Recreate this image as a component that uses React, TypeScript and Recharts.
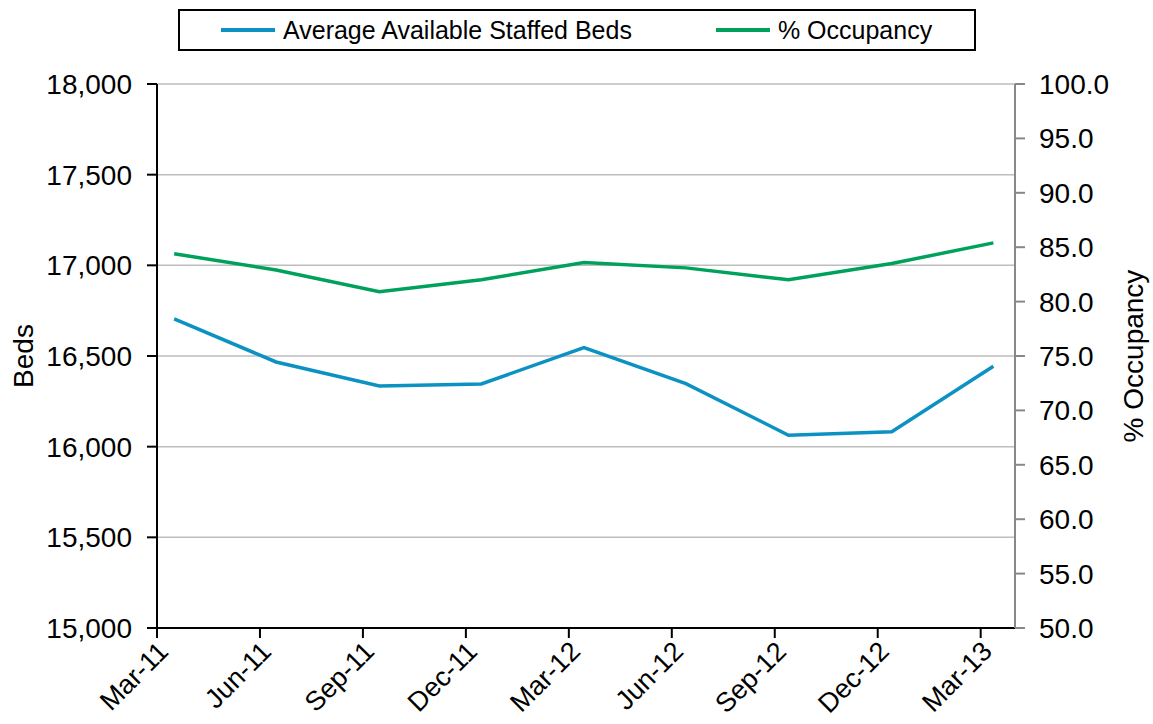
import React from "react"
import { LineChart, Line, XAxis, YAxis, CartesianGrid, Legend } from "recharts"

// quarter labels on the x axis (months since Mar-11)
const tickLabels = ["Mar-11", "Jun-11", "Sep-11", "Dec-11", "Mar-12", "Jun-12", "Sep-12", "Dec-12", "Mar-13"]
const tickMonths = [0, 3, 6, 9, 12, 15, 18, 21, 24]

// where each reading sits on the month axis
const pointMonths = [0.5, 3.47, 6.48, 9.45, 12.44, 15.41, 18.4, 21.41, 24.37]

const beds = [16705, 16467, 16335, 16346, 16546, 16348, 16063, 16082, 16443]
const occupancy = [84.4, 82.9, 80.9, 82.0, 83.6, 83.1, 82.0, 83.5, 85.4]

const bedTicks = [15000, 15500, 16000, 16500, 17000, 17500, 18000]
const occTicks = [50, 55, 60, 65, 70, 75, 80, 85, 90, 95, 100]

const seriesNames = ["Average Available Staffed Beds", "% Occupancy"]

const data = pointMonths.map((m, i) => ({ m, beds: beds[i], occ: occupancy[i] }))

const FONT = '"Liberation Sans", Arial, sans-serif'
const BLUE = "#0C91C3"
const GREEN = "#00A25B"

function MonthTick(props: any) {
  const { x, y, payload } = props
  const idx = tickMonths.indexOf(payload.value)
  return (
    <g transform={`translate(${x + 13},${y + 13})`}>
      <text x={0} y={0} textAnchor="end" transform="rotate(-45)" fontSize={27} fontFamily={FONT} fill="#000">
        {tickLabels[idx]}
      </text>
    </g>
  )
}

function LegendBox(props: any) {
  const items = [...(props.payload || [])].sort(
    (a: any, b: any) => seriesNames.indexOf(a.value) - seriesNames.indexOf(b.value)
  )
  return (
    <div
      style={{
        boxSizing: "border-box",
        width: 798,
        height: 42,
        border: "2px solid #000",
        display: "flex",
        alignItems: "center",
        paddingLeft: 41,
        fontFamily: FONT,
        fontSize: 25,
        background: "#fff",
      }}
    >
      {items.map((it: any, i: number) => (
        <div key={i} style={{ display: "flex", alignItems: "center", marginLeft: i === 0 ? 0 : 84 }}>
          <span style={{ display: "inline-block", width: 54, height: 4, background: it.color, marginRight: 8 }} />
          <span>{it.value}</span>
        </div>
      ))}
    </div>
  )
}

export default function App() {
  return (
    <div style={{ position: "absolute", left: 0, top: 0, background: "#fff" }}>
      <LineChart width={1153} height={724} data={data} margin={{ top: 42, right: 0, bottom: 0, left: 0 }}>
        <CartesianGrid yAxisId="left" vertical={false} stroke="#BDBDBD" strokeWidth={1.5} />
        <XAxis
          dataKey="m"
          type="number"
          domain={[0, 25]}
          ticks={tickMonths}
          height={96}
          stroke="#000"
          strokeWidth={2}
          tickSize={10}
          tick={<MonthTick />}
          interval={0}
        />
        <YAxis
          yAxisId="left"
          domain={[15000, 18000]}
          ticks={bedTicks}
          width={157}
          stroke="#000"
          strokeWidth={2}
          tickSize={10}
          tickMargin={15}
          tickFormatter={(v: number) => v.toLocaleString("en-US")}
          tick={{ fontSize: 28, fontFamily: FONT, fill: "#000" }}
          label={{
            content: (p: any) => {
              const vb = p.viewBox
              const cy = vb.y + vb.height / 2
              return (
                <text x={33} y={cy} transform={`rotate(-90, 33, ${cy})`} textAnchor="middle" fontSize={28} fontFamily={FONT} fill="#000">
                  Beds
                </text>
              )
            },
          }}
        />
        <YAxis
          yAxisId="right"
          orientation="right"
          domain={[50, 100]}
          ticks={occTicks}
          width={138}
          stroke="#888"
          strokeWidth={2}
          tickSize={10}
          tickMargin={14}
          tickFormatter={(v: number) => v.toFixed(1)}
          tick={{ fontSize: 28, fontFamily: FONT, fill: "#000" }}
          label={{
            content: (p: any) => {
              const vb = p.viewBox
              const cy = vb.y + vb.height / 2
              return (
                <text x={1143} y={cy} transform={`rotate(-90, 1143, ${cy})`} textAnchor="middle" fontSize={28} fontFamily={FONT} fill="#000">
                  % Occupancy
                </text>
              )
            },
          }}
        />
        <Legend
          layout="vertical"
          align="center"
          verticalAlign="top"
          wrapperStyle={{ position: "absolute", left: 178, top: 9, width: 798 }}
          content={<LegendBox />}
        />
        <Line
          yAxisId="left"
          type="linear"
          dataKey="beds"
          name={seriesNames[0]}
          stroke={BLUE}
          strokeWidth={3.5}
          dot={false}
          isAnimationActive={false}
        />
        <Line
          yAxisId="right"
          type="linear"
          dataKey="occ"
          name={seriesNames[1]}
          stroke={GREEN}
          strokeWidth={3.5}
          dot={false}
          isAnimationActive={false}
        />
      </LineChart>
    </div>
  )
}
